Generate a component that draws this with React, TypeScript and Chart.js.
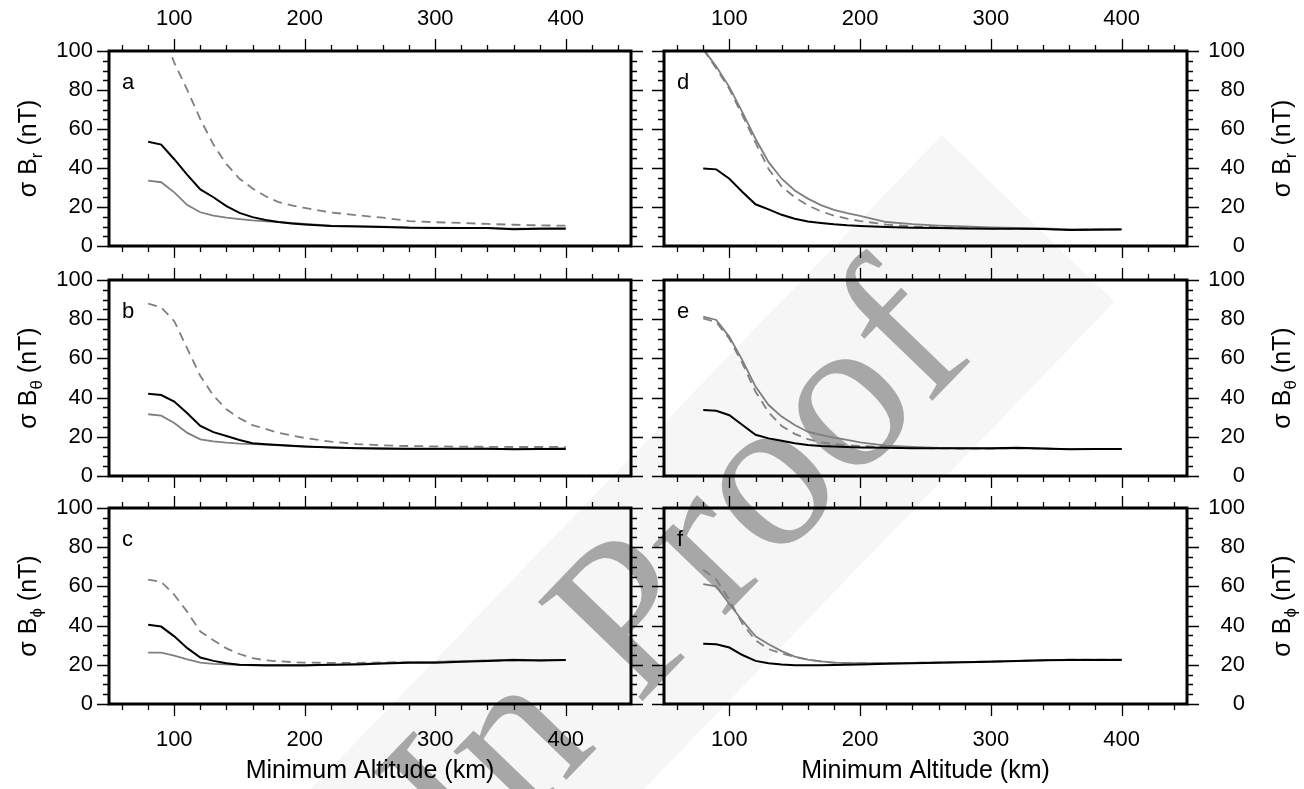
import React, { useEffect, useRef } from 'react';
import { Chart, registerables } from 'chart.js';

Chart.register(...registerables);

// ---------------- data ----------------
const ALTITUDE_KM = [80, 90, 100, 110, 120, 130, 140, 150, 160, 170, 180, 190, 200, 220, 240, 260, 280, 300, 320, 340, 360, 380, 400];

const X_MAJOR_TICKS = [100, 200, 300, 400];
const X_MINOR_TICKS = [60, 80, 120, 140, 160, 180, 220, 240, 260, 280, 320, 340, 360, 380, 420, 440];
const Y_MAJOR_TICKS = [0, 20, 40, 60, 80, 100];
const Y_MINOR_TICKS = [5, 10, 15, 25, 30, 35, 45, 50, 55, 65, 70, 75, 85, 90, 95];

const A_BLACK = [53.5, 52, 44.5, 36.5, 29, 25, 20.5, 17, 14.8, 13.3, 12.3, 11.5, 11, 10.2, 10, 9.7, 9.3, 9.2, 9.2, 9.2, 8.6, 8.8, 8.8];
const A_GREY = [33.5, 32.7, 27.5, 21, 17.3, 15.6, 14.5, 13.8, 13.1, 12.6, 12.2, 11.8, 11.3, 10.5, 10.2, 9.9, 9.6, 9.4, 9.3, 9.2, 8.9, 9, 9.2];
const A_DASHED = [125, 112, 94, 80, 65, 52, 42, 34.5, 29.5, 25.5, 22.5, 20.8, 19.5, 17.2, 15.8, 14.5, 12.8, 12.2, 11.8, 11.3, 10.9, 10.6, 10.4];

const B_BLACK = [42, 41.3, 38, 32, 25.5, 22.4, 20.4, 18.4, 16.7, 16.2, 15.8, 15.4, 15.1, 14.6, 14.2, 14, 13.9, 13.9, 13.9, 13.9, 13.7, 13.8, 13.8];
const B_GREY = [31.5, 30.8, 27, 22, 18.7, 17.7, 17, 16.5, 16.3, 16, 15.7, 15.3, 15, 14.6, 14.2, 13.9, 13.7, 13.7, 13.8, 13.9, 13.7, 13.8, 14.2];
const B_DASHED = [88, 86, 79, 65, 51, 41, 34, 29.5, 26, 24, 22, 20.7, 19.4, 17.5, 16.3, 15.6, 15.3, 15.1, 15, 14.9, 14.8, 14.8, 14.8];

const C_BLACK = [40.4, 39.5, 34.5, 28.5, 23.7, 22, 20.8, 20, 19.9, 19.8, 19.8, 19.8, 19.8, 20, 20.2, 20.6, 21, 21.1, 21.5, 22, 22.4, 22.2, 22.4];
const C_GREY = [26.2, 26.2, 24.7, 22.8, 21.1, 20.5, 20.2, 20, 19.7, 19.6, 19.6, 19.6, 19.6, 20, 20.5, 20.9, 21.3, 21.5, 21.8, 22.2, 22.6, 22.4, 22.5];
const C_DASHED = [63.4, 62.3, 55.7, 47, 37, 32.5, 28.4, 25.5, 23.4, 22.3, 21.8, 21.4, 21.1, 21, 21, 21.2, 21.4, 21.5, 21.8, 22.1, 22.3, 22.3, 22.4];

const D_BLACK = [39.7, 39.3, 34.5, 27.7, 21.4, 18.8, 16, 14, 12.6, 11.8, 11.1, 10.6, 10.3, 9.8, 9.4, 9.2, 9, 8.9, 8.8, 8.7, 8.2, 8.3, 8.4];
const D_GREY = [101, 92, 81.5, 68.5, 55, 43, 34.5, 28.5, 24.3, 21, 18.5, 16.8, 15.4, 12.3, 11.2, 10.5, 10, 9.6, 9.3, 9, 8.5, 8.7, 8.7];
const D_DASHED = [101, 91, 80.5, 67, 53, 39.5, 30.5, 25, 20.8, 17.8, 15.6, 14, 12.8, 11, 10, 9.6, 9.3, 9.1, 8.9, 8.8, 8.4, 8.5, 8.6];

const E_BLACK = [33.7, 33.3, 31, 26, 21, 19.2, 18, 16.7, 15.8, 15.3, 15, 14.8, 14.6, 14.4, 14.2, 14.1, 14.1, 14.1, 14.4, 14, 13.6, 13.8, 13.8];
const E_GREY = [81.3, 79.6, 71, 59, 45.6, 36.2, 30.3, 26, 22.6, 21, 19.6, 18.4, 17.2, 15.5, 14.8, 14.3, 14.1, 14, 14.1, 14, 13.7, 13.8, 13.8];
const E_DASHED = [80.4, 78.5, 70, 57.5, 43, 32.5, 25.5, 21.5, 18.8, 17.2, 16.3, 15.7, 15.3, 14.7, 14.3, 14.1, 14, 14, 14.1, 14, 13.7, 13.8, 13.8];

const F_BLACK = [30.7, 30.5, 28.8, 25, 22, 20.8, 20.2, 19.8, 19.8, 19.8, 19.9, 20, 20.2, 20.5, 20.8, 21, 21.3, 21.6, 21.9, 22.3, 22.5, 22.5, 22.5];
const F_GREY = [61.2, 60, 51, 42.5, 34.5, 30.5, 27, 24.2, 22.6, 21.7, 21.1, 20.9, 20.8, 20.8, 21, 21.2, 21.4, 21.7, 22, 22.3, 22.6, 22.6, 22.6];
const F_DASHED = [68.5, 63.5, 53, 41, 32.5, 28, 25.8, 24, 22.6, 21.7, 21.1, 20.9, 20.8, 20.8, 21, 21.2, 21.4, 21.7, 22, 22.3, 22.6, 22.6, 22.6];

const PANEL_LETTERS = ['a', 'b', 'c', 'd', 'e', 'f'];
const COMPONENT_SUBSCRIPTS = ['r', 'θ', 'ϕ'];
const X_TITLE = 'Minimum Altitude (km)';
const WATERMARK_TEXT = 'In Proof';

// ---------------- layout ----------------
const FONT = "'Liberation Sans', Arial, Helvetica, sans-serif";
const COL_X = [0, 648];
const COL_W = [648, 656];
const ROW_Y = [0, 263, 492];
const ROW_H = [263, 229, 297];
const BOX_X = [[109, 631], [664, 1187]];
const BOX_Y = [[51, 246], [280, 476], [508, 704]];
const RIGHT_LABEL_W = 58;

type PanelSpec = {
  letter: string;
  sub: string;
  row: number;
  col: number;
  black: number[];
  grey: number[];
  dashed: number[];
};

const PANELS: PanelSpec[] = [
  { letter: PANEL_LETTERS[0], sub: COMPONENT_SUBSCRIPTS[0], row: 0, col: 0, black: A_BLACK, grey: A_GREY, dashed: A_DASHED },
  { letter: PANEL_LETTERS[1], sub: COMPONENT_SUBSCRIPTS[1], row: 1, col: 0, black: B_BLACK, grey: B_GREY, dashed: B_DASHED },
  { letter: PANEL_LETTERS[2], sub: COMPONENT_SUBSCRIPTS[2], row: 2, col: 0, black: C_BLACK, grey: C_GREY, dashed: C_DASHED },
  { letter: PANEL_LETTERS[3], sub: COMPONENT_SUBSCRIPTS[0], row: 0, col: 1, black: D_BLACK, grey: D_GREY, dashed: D_DASHED },
  { letter: PANEL_LETTERS[4], sub: COMPONENT_SUBSCRIPTS[1], row: 1, col: 1, black: E_BLACK, grey: E_GREY, dashed: E_DASHED },
  { letter: PANEL_LETTERS[5], sub: COMPONENT_SUBSCRIPTS[2], row: 2, col: 1, black: F_BLACK, grey: F_GREY, dashed: F_DASHED },
];

const toXY = (vals: number[]) => ALTITUDE_KM.map((x, i) => ({ x, y: vals[i] }));

const framePlugin = {
  id: 'gmtFrame',
  afterDraw(chart: any, _args: any, opts: any) {
    const { ctx, chartArea } = chart;
    const { left, right, top, bottom } = chartArea;
    const xs = chart.scales.x;
    const ys = chart.scales.y;
    const MAJOR = 12;
    const MINOR = 6;
    ctx.save();
    ctx.strokeStyle = '#000';
    ctx.lineWidth = 1.3;
    ctx.beginPath();
    const xTick = (v: number, len: number) => {
      const px = Math.round(xs.getPixelForValue(v)) + 0.5;
      ctx.moveTo(px, top);
      ctx.lineTo(px, top - len);
      ctx.moveTo(px, bottom);
      ctx.lineTo(px, bottom + len);
    };
    const yTick = (v: number, len: number) => {
      const py = Math.round(ys.getPixelForValue(v)) + 0.5;
      ctx.moveTo(left, py);
      ctx.lineTo(left - len, py);
      ctx.moveTo(right, py);
      ctx.lineTo(right + len, py);
    };
    X_MAJOR_TICKS.forEach((v) => xTick(v, MAJOR));
    X_MINOR_TICKS.forEach((v) => xTick(v, MINOR));
    Y_MAJOR_TICKS.forEach((v) => yTick(v, MAJOR));
    Y_MINOR_TICKS.forEach((v) => yTick(v, MINOR));
    ctx.stroke();

    ctx.lineWidth = 3;
    ctx.strokeRect(left, top, right - left, bottom - top);

    // panel letter
    ctx.fillStyle = '#000';
    ctx.font = `22px ${FONT}`;
    ctx.textAlign = 'left';
    ctx.textBaseline = 'alphabetic';
    ctx.fillText(opts.letter, left + 13, top + 38);

    // y title with subscript
    const mainSize = 25;
    const subSize = 17;
    const part1 = 'σ B';
    const part2 = ' (nT)';
    ctx.font = `${mainSize}px ${FONT}`;
    const w1 = ctx.measureText(part1).width;
    const w3 = ctx.measureText(part2).width;
    ctx.font = `${subSize}px ${FONT}`;
    const w2 = ctx.measureText(opts.sub).width;
    const total = w1 + w2 + w3;
    const baseX = opts.col === 0 ? 36 : opts.canvasWidth - 14;
    ctx.save();
    ctx.translate(baseX, (top + bottom) / 2);
    ctx.rotate(-Math.PI / 2);
    ctx.textAlign = 'left';
    let cx = -total / 2;
    ctx.font = `${mainSize}px ${FONT}`;
    ctx.fillText(part1, cx, 0);
    cx += w1;
    ctx.font = `${subSize}px ${FONT}`;
    ctx.fillText(opts.sub, cx, 6);
    cx += w2;
    ctx.font = `${mainSize}px ${FONT}`;
    ctx.fillText(part2, cx, 0);
    ctx.restore();

    if (opts.row === 2) {
      ctx.font = `25px ${FONT}`;
      ctx.textAlign = 'center';
      ctx.fillText(X_TITLE, (left + right) / 2, bottom + 74);
    }
    ctx.restore();
  },
};

function buildConfig(p: PanelSpec): any {
  const W = COL_W[p.col];
  const H = ROW_H[p.row];
  const boxLeft = BOX_X[p.col][0] - COL_X[p.col];
  const boxRight = BOX_X[p.col][1] - COL_X[p.col];
  const boxTop = BOX_Y[p.row][0] - ROW_Y[p.row];
  const boxBottom = BOX_Y[p.row][1] - ROW_Y[p.row];
  const tickFont = { family: FONT, size: 22 };
  return {
    type: 'line',
    data: {
      datasets: [
        { data: toXY(p.black), borderColor: '#000000', borderWidth: 2, pointRadius: 0, tension: 0, fill: false },
        { data: toXY(p.grey), borderColor: '#7f7f7f', borderWidth: 1.8, pointRadius: 0, tension: 0, fill: false },
        { data: toXY(p.dashed), borderColor: '#7f7f7f', borderWidth: 1.8, borderDash: [9, 6], pointRadius: 0, tension: 0, fill: false },
      ],
    },
    options: {
      animation: false,
      responsive: false,
      events: [],
      layout: {
        padding: {
          left: p.col === 0 ? 0 : boxLeft,
          right: p.col === 0 ? W - boxRight : W - boxRight - RIGHT_LABEL_W,
          top: p.row === 0 ? 0 : boxTop,
          bottom: p.row === 2 ? 0 : H - boxBottom,
        },
      },
      plugins: {
        legend: { display: false },
        tooltip: { enabled: false },
        gmtFrame: { letter: p.letter, sub: p.sub, col: p.col, row: p.row, canvasWidth: W },
      },
      scales: {
        x: {
          type: 'linear',
          min: 50,
          max: 450,
          display: p.row !== 1,
          position: p.row === 0 ? 'top' : 'bottom',
          grid: { display: false, drawTicks: false },
          border: { display: false },
          ticks: { font: tickFont, color: '#000', padding: p.row === 0 ? 19 : 23, maxRotation: 0, autoSkip: false },
          afterBuildTicks: (axis: any) => {
            axis.ticks = X_MAJOR_TICKS.map((v) => ({ value: v }));
          },
          afterFit: (s: any) => {
            if (p.row === 1) return;
            s.height = p.row === 0 ? boxTop : H - boxBottom;
            s.paddingLeft = 0;
            s.paddingRight = 0;
          },
        },
        y: {
          type: 'linear',
          min: 0,
          max: 100,
          position: p.col === 0 ? 'left' : 'right',
          grid: { display: false, drawTicks: false },
          border: { display: false },
          ticks: {
            font: tickFont,
            color: '#000',
            padding: p.col === 0 ? 16 : 21,
            crossAlign: p.col === 0 ? 'near' : 'far',
            autoSkip: false,
          },
          afterBuildTicks: (axis: any) => {
            axis.ticks = Y_MAJOR_TICKS.map((v) => ({ value: v }));
          },
          afterFit: (s: any) => {
            s.width = p.col === 0 ? boxLeft : RIGHT_LABEL_W;
            s.paddingTop = 0;
            s.paddingBottom = 0;
          },
        },
      },
    },
    plugins: [framePlugin],
  };
}

function Panel({ spec }: { spec: PanelSpec }) {
  const ref = useRef<HTMLCanvasElement>(null);
  const W = COL_W[spec.col];
  const H = ROW_H[spec.row];
  useEffect(() => {
    if (!ref.current) return;
    const chart = new Chart(ref.current, buildConfig(spec));
    return () => chart.destroy();
  }, [spec]);
  return (
    <canvas
      ref={ref}
      width={W}
      height={H}
      style={{ position: 'absolute', left: COL_X[spec.col], top: ROW_Y[spec.row], width: W, height: H, zIndex: 2, display: 'block' }}
    />
  );
}

export default function App() {
  return (
    <div style={{ position: 'absolute', left: 0, top: 0, width: 1304, height: 789, overflow: 'hidden', background: '#fff' }}>
      <div
        style={{
          position: 'absolute',
          left: 542,
          top: 722,
          width: 1400,
          height: 240,
          transform: 'translate(-50%, -50%) rotate(-46deg)',
          background: 'rgba(0,0,0,0.035)',
          zIndex: 0,
        }}
      />
      <div
        style={{
          position: 'absolute',
          left: 671,
          top: 565,
          transform: 'translate(-50%, -50%) rotate(-46deg)',
          fontFamily: "'Liberation Serif', 'DejaVu Serif', serif",
          fontSize: 220,
          lineHeight: 1,
          whiteSpace: 'nowrap',
          color: 'rgba(140,140,140,0.75)',
          zIndex: 1,
        }}
      >
        {WATERMARK_TEXT}
      </div>
      {PANELS.map((p) => (
        <Panel key={p.letter} spec={p} />
      ))}
    </div>
  );
}
